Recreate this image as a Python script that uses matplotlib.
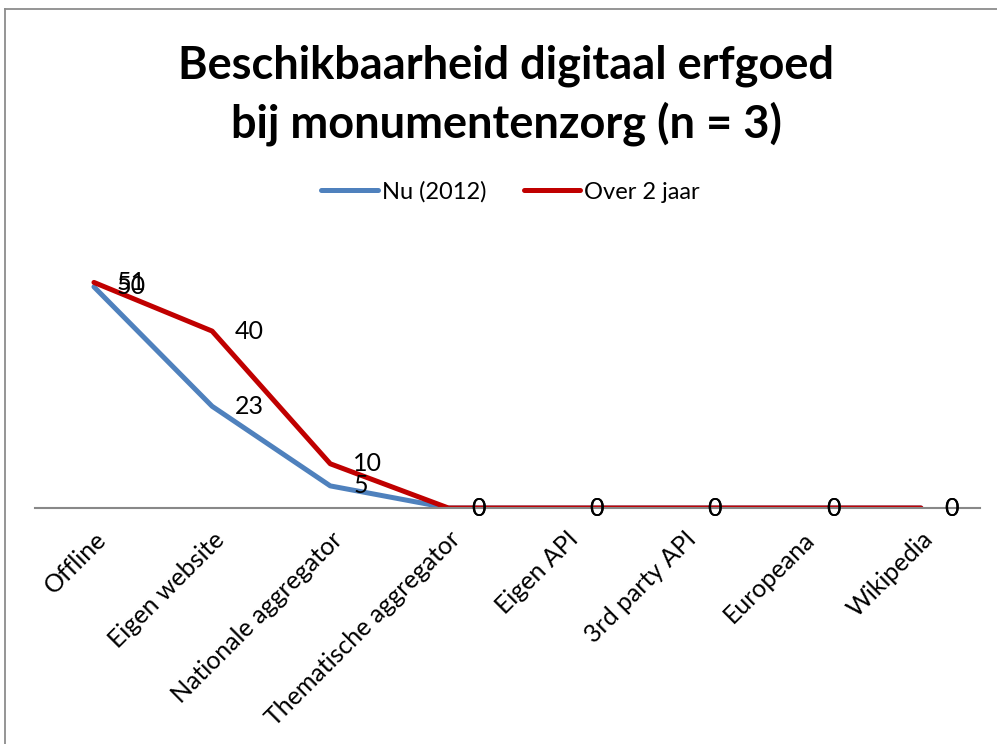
import matplotlib
matplotlib.use('Agg')
import matplotlib.pyplot as plt
from matplotlib.lines import Line2D

plt.rcParams['font.family'] = ['Lato', 'DejaVu Sans']

categories = ['Offline', 'Eigen website', 'Nationale aggregator',
              'Thematische aggregator', 'Eigen API', '3rd party API',
              'Europeana', 'Wikipedia']
nu_2012 = [50, 23, 5, 0, 0, 0, 0, 0]
over_2_jaar = [51, 40, 10, 0, 0, 0, 0, 0]

fig = plt.figure(figsize=(9.97, 7.44), dpi=100)
ax = fig.add_axes([0.035, 0.3172, 0.948, 0.3567])

x = list(range(len(categories)))
ax.plot(x, nu_2012, color='#4F81BD', lw=3.6, solid_capstyle='round',
        label='Nu (2012)')
ax.plot(x, over_2_jaar, color='#C00000', lw=3.6, solid_capstyle='round',
        label='Over 2 jaar')

for series in (nu_2012, over_2_jaar):
    for xi, v in zip(x, series):
        ax.annotate(str(v), (xi, v), xytext=(16.5, 0),
                    textcoords='offset points', ha='left', va='center',
                    fontsize=18, color='black')

ax.set_xlim(-0.5, len(categories) - 0.5)
ax.set_ylim(0, 60)
for s in ['top', 'right', 'left']:
    ax.spines[s].set_visible(False)
ax.spines['bottom'].set_color('#888888')
ax.spines['bottom'].set_linewidth(1.5)
ax.set_yticks([])
ax.set_xticks(x)
ax.set_xticklabels(categories, rotation=45, ha='right',
                   rotation_mode='anchor', fontsize=18)
ax.tick_params(axis='x', length=0, pad=14)

fig.text(0.508, 0.872, 'Beschikbaarheid digitaal erfgoed\nbij monumentenzorg (n = 3)',
         ha='center', va='center', fontsize=32.5, fontweight='bold',
         linespacing=1.42)

fig.legend(loc='center', bbox_to_anchor=(0.512, 0.742), ncol=2,
           frameon=False, fontsize=17, handlelength=2.4, handletextpad=0.15,
           columnspacing=1.6)

# chart frame (cut off at right and bottom)
fig.add_artist(Line2D([0.005, 0.005], [0.988, 0.0], color='#8c8c8c', lw=1.3))
fig.add_artist(Line2D([0.005, 1.0], [0.988, 0.988], color='#8c8c8c', lw=1.3))

fig.savefig('out.png', dpi=100)
